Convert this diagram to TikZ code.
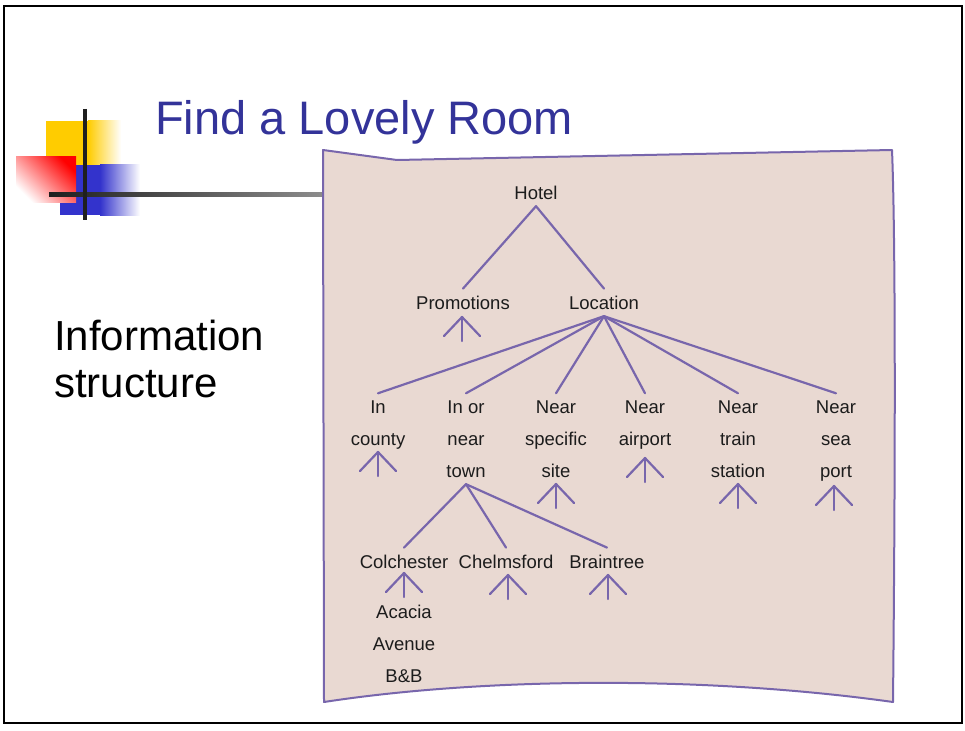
\documentclass[tikz,border=0pt]{standalone}
\usepackage{fontspec}
\setmainfont{Liberation Sans}
\usetikzlibrary{calc}
\definecolor{titleblue}{HTML}{333399}
\definecolor{sheetfill}{HTML}{E9D9D2}
\definecolor{inkpurple}{HTML}{7866AC}
\definecolor{logoyellow}{HTML}{FFCC00}
\definecolor{logoblue}{HTML}{3333CC}
\definecolor{hand}{HTML}{1C1C1C}
\begin{document}
\begin{tikzpicture}[x=1pt,y=-1pt,
  hw/.style={font=\fontsize{18.5}{32}\selectfont, text=hand, inner sep=2pt, outer sep=5pt, anchor=base, align=center},
  link/.style={draw=inkpurple, line width=2.2pt, line cap=round, line join=round},
  upmark/.pic={\draw[link] (-18,19) -- (0,0) -- (18,19); \draw[link] (0,0) -- (0,24);}
]
\useasboundingbox (0,0) rectangle (965,730);
% outer frame
\draw[line width=2.5pt] (4,6) rectangle (962,723);
% logo
\fill[logoyellow] (46,121) rectangle (88,165);
\shade[left color=logoyellow, right color=white] (88,121) rectangle (121,165);
\fill[logoblue] (60,165) rectangle (100,215);
\shade[left color=logoblue, right color=white] (100,165) rectangle (140,215);
\shade[top color=red, bottom color=white, middle color=red!50, shading angle=-45] (16,157) rectangle (76,202);
\shade[left color=black!88, right color=black!45] (49,192) rectangle (323,196);
\draw[line width=4pt, black!88] (85,109) -- (85,220);
% title and side text (base anchor = baseline of last line)
\node[anchor=base west, font=\fontsize{47}{50}\selectfont, text=titleblue, inner sep=0] (title) at (155,135) {Find a Lovely Room};
\node[anchor=base west, align=left, font=\fontsize{42}{47}\selectfont, inner sep=0] (info) at (54,397) {Information\\structure};
% sheet
\filldraw[fill=sheetfill, draw=inkpurple, line width=2pt, line join=round]
  (323,150) -- (397,160) -- (892,150) .. controls (896,250) and (895,500) .. (893,702)
  .. controls (700,675) and (480,678) .. (324,702) -- cycle;
% tree nodes
\node[hw] (hotel) at (536,199) {Hotel};
\node[hw] (promo) at (463,309) {Promotions};
\node[hw] (loc) at (604,309) {Location};
\node[hw] (cty) at (378,445) {In\\county};
\node[hw] (town) at (466,477) {In or\\near\\town};
\node[hw] (site) at (556,477) {Near\\specific\\site};
\node[hw] (air) at (645,445) {Near\\airport};
\node[hw] (train) at (738,477) {Near\\train\\station};
\node[hw] (sea) at (836,477) {Near\\sea\\port};
\node[hw] (colch) at (404,568) {Colchester};
\node[hw] (chelm) at (506,568) {Chelmsford};
\node[hw] (brain) at (607,568) {Braintree};
\node[hw] (bb) at (404,682) {Acacia\\Avenue\\B\&B};
% connectors
\draw[link] (hotel.south) -- (promo.north);
\draw[link] (hotel.south) -- (loc.north);
\foreach \n in {cty,town,site,air,train,sea} \draw[link] (loc.south) -- (\n.north);
\foreach \n in {colch,chelm,brain} \draw[link] (town.south) -- (\n.north);
% open-ended marks
\pic at (462,317) {upmark};
\pic at (378,452) {upmark};
\pic at (556,484) {upmark};
\pic at (645,458) {upmark};
\pic at (738,484) {upmark};
\pic at (834,486) {upmark};
\pic at (404,573) {upmark};
\pic at (508,575) {upmark};
\pic at (608,575) {upmark};
\end{tikzpicture}
\end{document}
